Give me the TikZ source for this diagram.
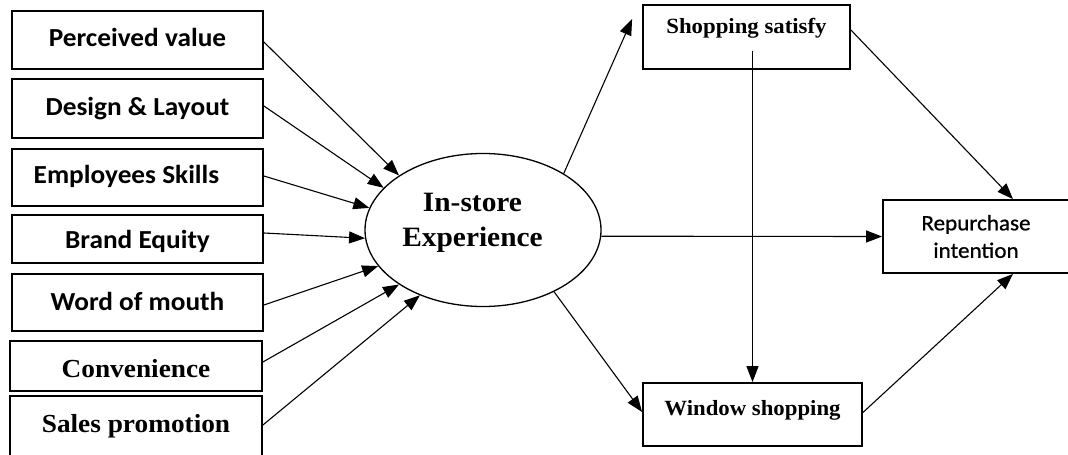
\documentclass[tikz,border=0pt]{standalone}
\usepackage{fontspec}
\usetikzlibrary{arrows.meta,shapes.geometric,calc}
\newfontfamily\labsans[FakeStretch=1.05]{Carlito}
\newfontfamily\labsanssemi[FakeStretch=1.05,FakeBold=0.8]{Carlito}
\newfontfamily\labserif[FakeStretch=1.05]{Liberation Serif}

\begin{document}
\begin{tikzpicture}[x=1pt,y=-1pt,
  box/.style={draw, rectangle, line width=1.8pt, inner sep=0pt, text depth=0pt},
  sansbox/.style={box, font=\labsans\bfseries\fontsize{26}{31}\selectfont},
  serifbox/.style={box, font=\labserif\bfseries\fontsize{26}{31}\selectfont},
  smallserif/.style={box, font=\labserif\bfseries\fontsize{21.7}{26}\selectfont},
  arr/.style={-{Triangle[length=16pt,width=12pt]}, line width=1.1pt}
]
\useasboundingbox (0,0) rectangle (1068,455);

% antecedent factors
\node[sansbox, minimum width=251pt, minimum height=58pt, text height=13pt] (pv) at (137.5,40) {Perceived value};
\node[sansbox, minimum width=251pt, minimum height=59pt, text height=13pt] (dl) at (137.5,108.5) {Design \& Layout};
\node[sansbox, minimum width=251pt, minimum height=57pt, text height=12pt] (es) at (137.5,177.5) {Employees Skills\hspace*{22pt}};
\node[sansbox, minimum width=251pt, minimum height=48pt, text height=18pt] (be) at (137.5,239) {Brand Equity};
\node[sansbox, minimum width=251pt, minimum height=57pt, text height=15pt] (wm) at (137.5,302.5) {Word of mouth};
\node[serifbox, minimum width=252pt, minimum height=50pt, text height=23.4pt] (cv) at (136,366) {Convenience};
\node[serifbox, minimum width=252pt, minimum height=66pt, text height=6pt] (sp) at (136,429) {Sales promotion};

% central construct
\node[ellipse, draw, line width=1.3pt, minimum width=236pt, minimum height=153pt, inner sep=0pt,
      align=center, font=\labserif\bfseries\fontsize{28}{35.3}\selectfont] (ell) at (483,230)
  {In-store\hspace*{21pt}\\Experience\hspace*{21pt}\rule[-20pt]{0pt}{1pt}};

% outcomes
\node[smallserif, minimum width=207pt, minimum height=64pt, text height=0pt, text depth=7.4pt] (ss) at (746.5,37) {Shopping satisfy};
\node[smallserif, minimum width=219pt, minimum height=63pt, text height=1pt] (ws) at (752.5,414.5) {Window shopping};
\node[draw, rectangle, line width=1.8pt, inner sep=0pt, minimum width=186pt, minimum height=73pt,
      align=center, font=\labsanssemi\fontsize{22}{27.5}\selectfont] (rp) at (976,236.5) {Repurchase\\intention};

% paths into the experience
\draw[arr] ([yshift=-2pt]pv.east) -- (ell.147);
\draw[arr] ([yshift=2.5pt]dl.east) -- (ell.157);
\draw[arr] ([yshift=1.5pt]es.east) -- (ell.169);
\draw[arr] ([yshift=6pt]be.east) -- (ell.184);
\draw[arr] ([yshift=-2.5pt]wm.east) -- (ell.199);
\draw[arr] ([yshift=4pt]cv.east) -- (ell.213);
\draw[arr] ([yshift=4pt]sp.east) -- (ell.226);

% paths out of the experience
\draw[arr] (ell.35) -- ([xshift=-10pt,yshift=-15pt]ss.north west);
\draw[arr] (ell.-3.4) -- (rp.west);
\draw[arr] (ell.-41) -- ([yshift=2.5pt]ws.west);
\draw[arr] ($(ws.north |- ss.south)+(0,-19)$) -- (ws.north);
\draw[arr] ([yshift=7pt]ss.east) -- ([xshift=37pt]rp.north);
\draw[arr] ([yshift=2pt]ws.east) -- ([xshift=37pt]rp.south);
\end{tikzpicture}
\end{document}
